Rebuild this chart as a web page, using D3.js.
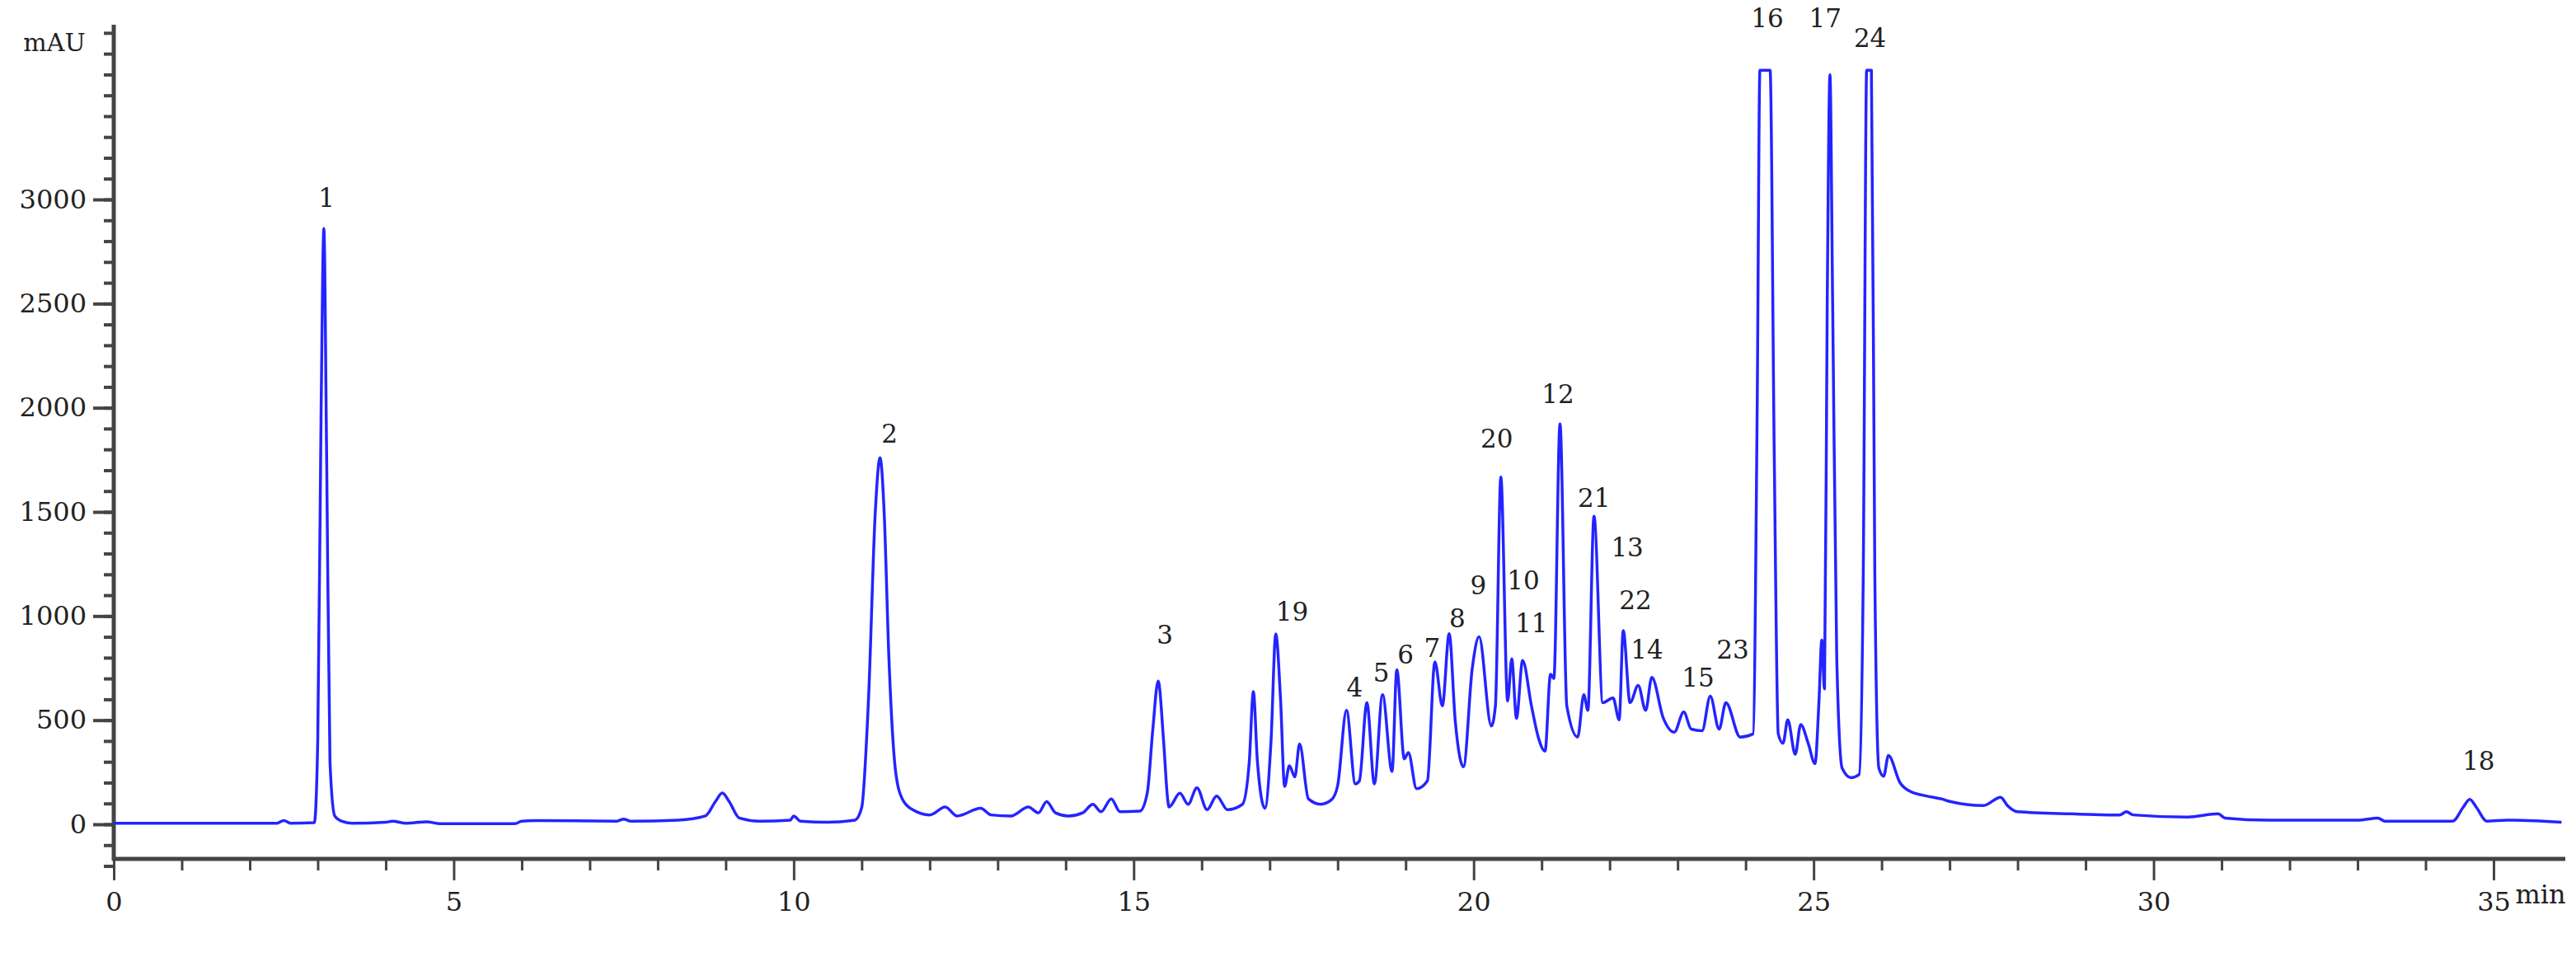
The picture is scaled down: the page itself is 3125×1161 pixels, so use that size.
<!DOCTYPE html>
<html><head><meta charset="utf-8">
<script src="https://cdn.jsdelivr.net/npm/d3@7"></script>
<style>body{margin:0;background:#fff}svg text{font-family:"DejaVu Serif","Liberation Serif",serif;fill:#222}</style>
</head><body><svg id="c" width="3125" height="1161"></svg>
<script>
const times = [0,2.4,2.5,2.6,2.95,3.0,3.05,3.09,3.13,3.18,3.25,3.35,3.5,4.0,4.1,4.3,4.6,4.8,5.9,6.0,6.2,7.4,7.5,7.6,8.3,8.7,8.85,8.95,9.05,9.2,9.5,9.95,10.0,10.1,10.5,10.9,11.0,11.1,11.2,11.27,11.33,11.4,11.5,11.6,11.75,12.0,12.23,12.4,12.75,12.9,13.2,13.45,13.6,13.72,13.85,14.04,14.25,14.4,14.52,14.67,14.8,15.09,15.2,15.28,15.36,15.44,15.5,15.52,15.68,15.8,15.93,16.08,16.22,16.38,16.6,16.7,16.76,16.82,16.93,17.02,17.09,17.16,17.22,17.29,17.37,17.44,17.57,17.75,17.91,18.0,18.13,18.26,18.32,18.43,18.54,18.66,18.8,18.87,18.98,19.04,19.16,19.32,19.43,19.54,19.64,19.73,19.85,19.98,20.08,20.26,20.32,20.4,20.5,20.56,20.63,20.72,20.85,20.95,21.05,21.13,21.18,21.27,21.37,21.53,21.62,21.68,21.77,21.9,22.05,22.14,22.2,22.3,22.42,22.53,22.62,22.79,22.95,23.09,23.2,23.36,23.48,23.61,23.71,23.92,24.11,24.17,24.21,24.36,24.42,24.48,24.55,24.62,24.73,24.81,24.92,25.02,25.08,25.12,25.16,25.2,25.24,25.28,25.34,25.42,25.55,25.67,25.73,25.78,25.85,25.9,25.96,26.03,26.1,26.27,26.43,26.6,26.9,27.0,27.5,27.75,27.85,28.0,28.8,29.5,29.6,29.7,30.5,30.95,31.05,31.7,33.0,33.3,33.4,34.4,34.55,34.65,34.75,34.9,35.2,36.0];
const mAU = [5,5,18,5,8,400,2000,2860,1800,300,40,15,5,10,15,5,12,3,3,15,18,15,25,15,20,40,110,150,110,30,15,20,40,15,10,20,80,600,1500,1760,1500,800,250,120,70,45,83,40,77,45,40,83,55,109,55,40,55,96,60,122,60,63,150,450,688,400,120,83,149,96,175,70,136,70,96,300,637,300,77,400,914,600,182,281,228,386,122,96,118,186,547,194,209,584,194,622,254,742,314,344,171,209,780,569,915,494,276,750,900,472,569,1667,592,795,509,787,569,419,351,720,700,1922,569,419,622,547,1479,584,607,502,930,584,667,547,705,509,442,539,457,449,615,457,584,419,434,2000,3620,3620,1800,434,389,502,336,479,389,291,600,885,650,2500,3600,2500,800,269,224,239,1200,3620,3620,1200,269,231,330,200,156,140,120,110,90,130,90,60,50,45,60,45,35,50,30,20,20,30,15,15,80,120,80,15,20,10];
const labelText = ["1","2","3","19","4","5","6","7","8","9","20","10","11","12","21","13","22","14","15","23","16","17","24","18"];
const labelT = [3.13,11.41,15.46,17.33,18.25,18.64,19.0,19.39,19.76,20.07,20.34,20.73,20.85,21.24,21.77,22.26,22.38,22.55,23.3,23.81,24.32,25.17,25.83,34.78];
const labelV = [2998,1867,902,1012,649,720,807,838,981,1139,1843,1163,957,2057,1558,1321,1068,831,696,831,3860,3860,3765,293];
const xMajor = [0,5,10,15,20,25,30,35];
const yMajor = [0,500,1000,1500,2000,2500,3000];

const svg = d3.select("#c");
svg.append("rect").attr("width",3125).attr("height",1161).attr("fill","#fff");
const x = d3.scaleLinear().domain([0,35]).range([138,3025]);
const y = d3.scaleLinear().domain([0,3000]).range([1000,242]);
const axisCol = "#444";

// y axis
const ya = svg.append("g").attr("transform","translate(138,0)");
ya.call(d3.axisLeft(y).tickValues(d3.range(-200,3801,100)).tickSize(12).tickFormat(""));
ya.append("g").call(d3.axisLeft(y).tickValues(yMajor).tickSize(25).tickPadding(8).tickFormat(d3.format("d")));
ya.selectAll("line").attr("stroke",axisCol).attr("stroke-width",4);
ya.selectAll(".domain").remove();
ya.selectAll("text").attr("font-size",32).style("font-family","DejaVu Serif,serif").attr("fill","#222");
svg.append("line").attr("x1",138).attr("x2",138).attr("y1",30).attr("y2",1044).attr("stroke",axisCol).attr("stroke-width",5);
svg.append("text").attr("x",66).attr("y",62).attr("text-anchor","middle").attr("font-size",30).text("mAU");

// x axis
const xa = svg.append("g").attr("transform","translate(0,1042)");
xa.call(d3.axisBottom(x).tickValues(d3.range(1,36,1).filter(d=>d%5)).tickSize(14).tickFormat(""));
xa.append("g").call(d3.axisBottom(x).tickValues(xMajor).tickSize(26).tickPadding(14).tickFormat(d3.format("d")));
xa.selectAll("line").attr("stroke",axisCol).attr("stroke-width",3);
xa.selectAll(".domain").remove();
xa.selectAll("text").attr("font-size",32).style("font-family","DejaVu Serif,serif").attr("fill","#222");
svg.append("line").attr("x1",136).attr("x2",3112).attr("y1",1042).attr("y2",1042).attr("stroke",axisCol).attr("stroke-width",5);
svg.append("text").attr("x",3082).attr("y",1096).attr("text-anchor","middle").attr("font-size",32).text("min");

// trace
const pts = times.map((t,i)=>[t,mAU[i]]);
svg.append("path").datum(pts)
  .attr("d", d3.line().x(d=>x(d[0])).y(d=>y(d[1])).curve(d3.curveMonotoneX))
  .attr("fill","none").attr("stroke","#2424ff").attr("stroke-width",3.5).attr("stroke-linejoin","round");

// peak labels
svg.append("g").selectAll("text").data(labelText).join("text")
  .attr("x",(d,i)=>x(labelT[i])).attr("y",(d,i)=>y(labelV[i]))
  .attr("text-anchor","middle").attr("dominant-baseline","middle")
  .attr("font-size",31).text(d=>d);
</script></body></html>
